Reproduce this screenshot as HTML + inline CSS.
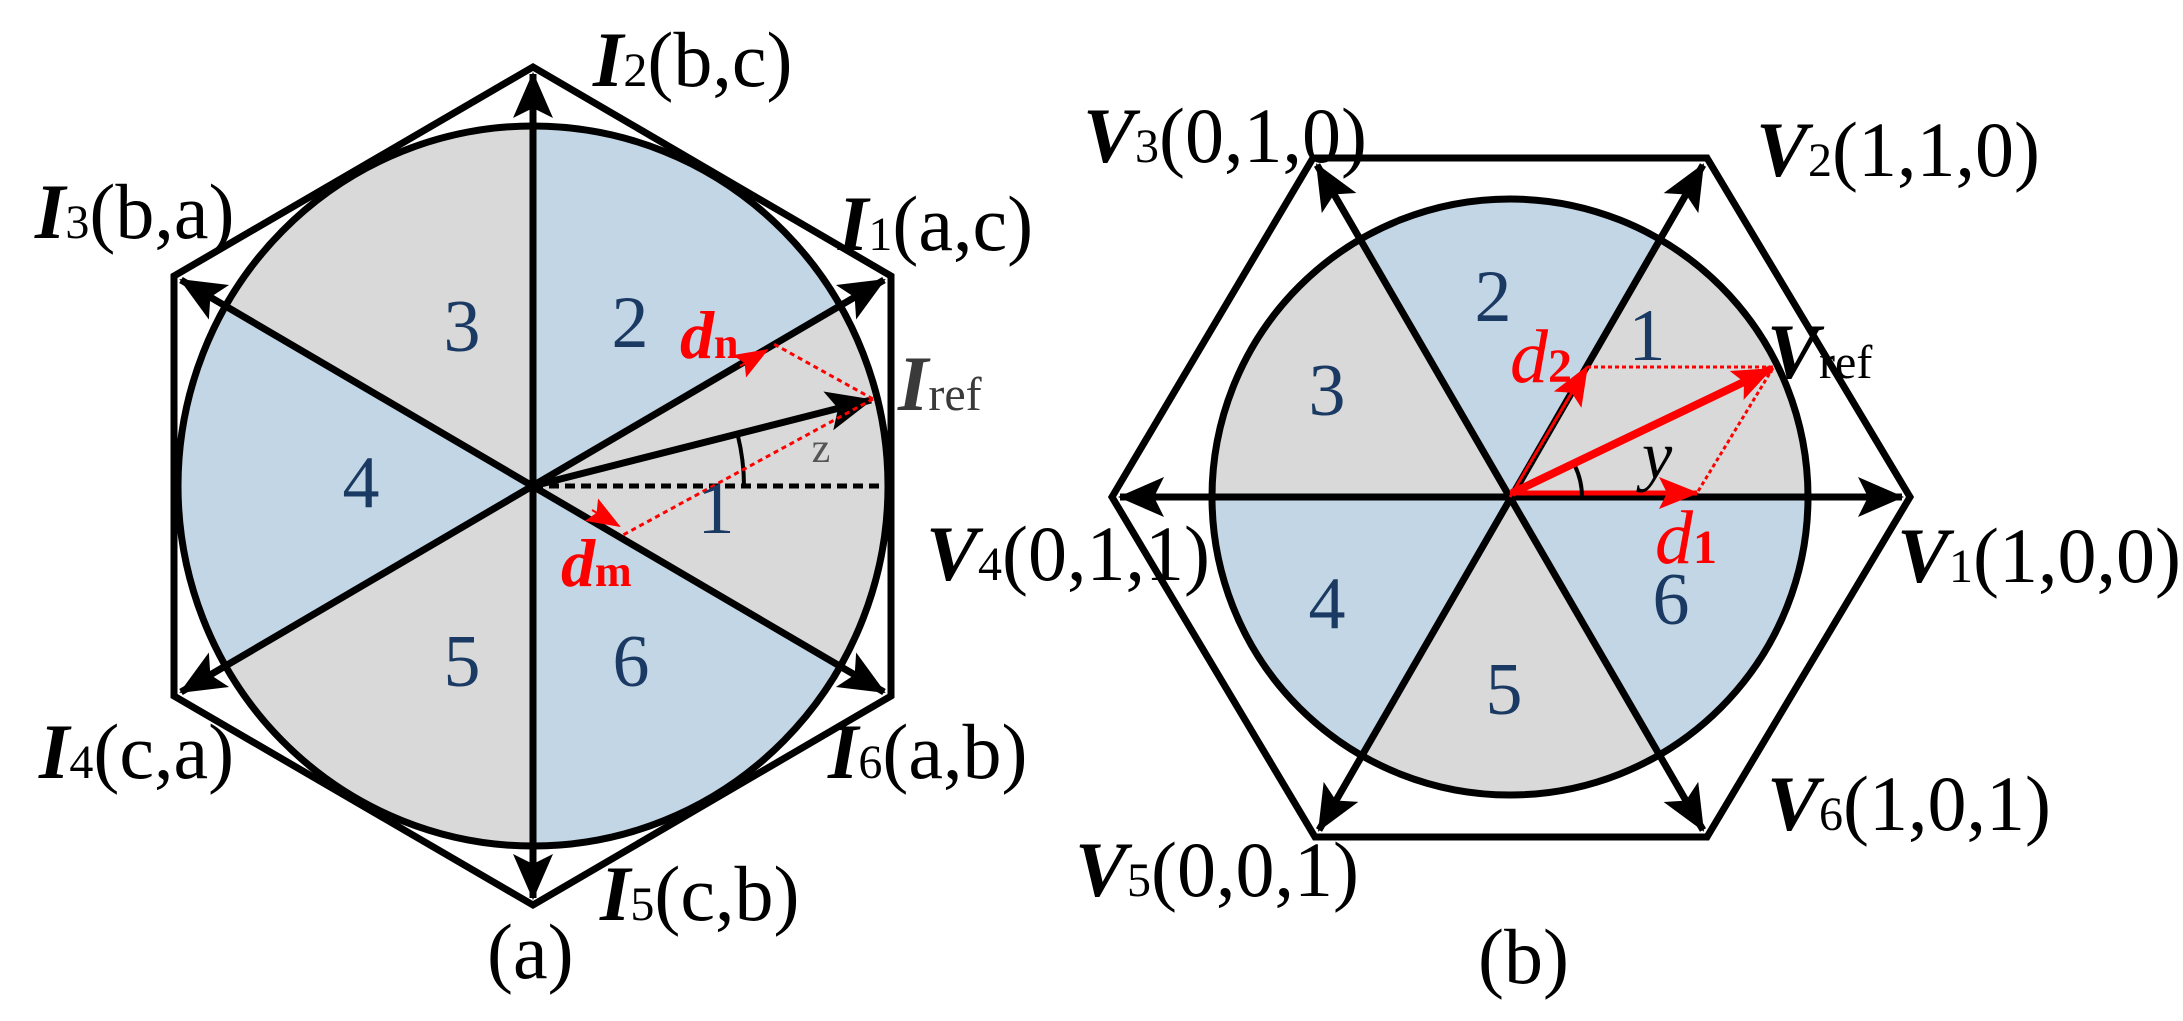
<!DOCTYPE html>
<html><head><meta charset="utf-8"><style>
html,body{margin:0;padding:0;background:#fff;}
svg{display:block;}
text{font-family:"Liberation Serif",serif;}
</style></head><body>
<svg width="2183" height="1021" viewBox="0 0 2183 1021" xmlns="http://www.w3.org/2000/svg">
<defs>
<marker id="ab" markerUnits="userSpaceOnUse" markerWidth="10" markerHeight="10" refX="0" refY="0" orient="auto-start-reverse" overflow="visible">
<path d="M2,0 L-44,-20 L-34,0 L-44,20 Z" fill="#000"/>
</marker>
<marker id="ar" markerUnits="userSpaceOnUse" markerWidth="10" markerHeight="10" refX="0" refY="0" orient="auto" overflow="visible">
<path d="M2,0 L-38,-16 L-30,0 L-38,16 Z" fill="#f00"/>
</marker>
<marker id="ars" markerUnits="userSpaceOnUse" markerWidth="10" markerHeight="10" refX="0" refY="0" orient="auto" overflow="visible">
<path d="M2,0 L-32,-13 L-26,0 L-32,13 Z" fill="#f00"/>
</marker>
</defs>

<!-- ===== (a) ===== -->
<g>
<path d="M533,486 L533,126 A355,360 0 0 1 840.4,306 Z" fill="#c3d6e5"/>
<path d="M533,486 L840.4,306 A355,360 0 0 1 840.4,666 Z" fill="#d9d9d9"/>
<path d="M533,486 L840.4,666 A355,360 0 0 1 533,846 Z" fill="#c3d6e5"/>
<path d="M533,486 L533,846 A355,360 0 0 1 225.6,666 Z" fill="#d9d9d9"/>
<path d="M533,486 L225.6,666 A355,360 0 0 1 225.6,306 Z" fill="#c3d6e5"/>
<path d="M533,486 L225.6,306 A355,360 0 0 1 533,126 Z" fill="#d9d9d9"/>
<ellipse cx="533" cy="486" rx="355" ry="360" fill="none" stroke="#000" stroke-width="7"/>
<polygon points="533,67 891,276 891,696 533,905 174,696 174,276" fill="none" stroke="#000" stroke-width="7" stroke-linejoin="miter"/>
<line x1="533" y1="74" x2="533" y2="898" stroke="#000" stroke-width="7" marker-start="url(#ab)" marker-end="url(#ab)"/>
<line x1="181" y1="280" x2="884" y2="692" stroke="#000" stroke-width="7" marker-start="url(#ab)" marker-end="url(#ab)"/>
<line x1="181" y1="692" x2="884" y2="280" stroke="#000" stroke-width="7" marker-start="url(#ab)" marker-end="url(#ab)"/>
<line x1="533" y1="486" x2="887" y2="486" stroke="#000" stroke-width="5" stroke-dasharray="10,6"/>
<line x1="533" y1="486" x2="871" y2="400" stroke="#000" stroke-width="7" marker-end="url(#ab)"/>
<path d="M744,486 A211,211 0 0 0 737.7,435" fill="none" stroke="#000" stroke-width="4"/>
<line x1="873" y1="399" x2="772" y2="343" stroke="#f00" stroke-width="3" stroke-dasharray="5,4"/>
<line x1="873" y1="399" x2="623" y2="535" stroke="#f00" stroke-width="3" stroke-dasharray="5,4"/>
<line x1="740" y1="366" x2="767" y2="350" stroke="#f00" stroke-width="2" marker-end="url(#ars)"/>
<line x1="592" y1="510" x2="619" y2="526" stroke="#f00" stroke-width="2" marker-end="url(#ars)"/>
<g font-size="74" fill="#1b3a63" text-anchor="middle">
<text x="462" y="351">3</text><text x="630" y="347">2</text>
<text x="361" y="507">4</text><text x="716" y="533">1</text>
<text x="462" y="686">5</text><text x="631" y="686">6</text>
</g>
<text x="821" y="462" font-size="42" fill="#555" text-anchor="middle">z</text>
<text x="680" y="358" font-size="68" fill="#f00" font-weight="bold" font-style="italic">d<tspan font-size="44" font-style="normal">n</tspan></text>
<text x="561" y="586" font-size="68" fill="#f00" font-weight="bold" font-style="italic">d<tspan font-size="44" font-style="normal">m</tspan></text>
<text x="898" y="410" font-size="78" fill="#3a3a3a"><tspan font-weight="bold" font-style="italic">I</tspan><tspan font-size="48">ref</tspan></text>
<g font-size="78" fill="#000">
<text x="593" y="86"><tspan font-weight="bold" font-style="italic">I</tspan><tspan font-size="48">2</tspan>(b,c)</text>
<text x="35" y="238"><tspan font-weight="bold" font-style="italic">I</tspan><tspan font-size="48">3</tspan>(b,a)</text>
<text x="838" y="250"><tspan font-weight="bold" font-style="italic">I</tspan><tspan font-size="48">1</tspan>(a,c)</text>
<text x="39" y="778"><tspan font-weight="bold" font-style="italic">I</tspan><tspan font-size="48">4</tspan>(c,a)</text>
<text x="828" y="778"><tspan font-weight="bold" font-style="italic">I</tspan><tspan font-size="48">6</tspan>(a,b)</text>
<text x="600" y="920"><tspan font-weight="bold" font-style="italic">I</tspan><tspan font-size="48">5</tspan>(c,b)</text>
<text x="487" y="978">(a)</text>
<text x="926" y="580"><tspan font-weight="bold" font-style="italic">V</tspan><tspan font-size="48">4</tspan>(0,1,1)</text>
</g>
</g>

<!-- ===== (b) ===== -->
<g>
<path d="M1510,497 L1808,497 A298,298 0 0 0 1659,239 Z" fill="#d9d9d9"/>
<path d="M1510,497 L1659,239 A298,298 0 0 0 1361,239 Z" fill="#c3d6e5"/>
<path d="M1510,497 L1361,239 A298,298 0 0 0 1212,497 Z" fill="#d9d9d9"/>
<path d="M1510,497 L1212,497 A298,298 0 0 0 1361,755 Z" fill="#c3d6e5"/>
<path d="M1510,497 L1361,755 A298,298 0 0 0 1659,755 Z" fill="#d9d9d9"/>
<path d="M1510,497 L1659,755 A298,298 0 0 0 1808,497 Z" fill="#c3d6e5"/>
<circle cx="1510" cy="497" r="298" fill="none" stroke="#000" stroke-width="7"/>
<polygon points="1112,497 1313,158 1707,158 1910,497 1707,837 1315,837" fill="none" stroke="#000" stroke-width="7"/>
<line x1="1120" y1="497" x2="1902" y2="497" stroke="#000" stroke-width="7" marker-start="url(#ab)" marker-end="url(#ab)"/>
<line x1="1317" y1="165" x2="1703" y2="830" stroke="#000" stroke-width="7" marker-start="url(#ab)" marker-end="url(#ab)"/>
<line x1="1319" y1="830" x2="1703" y2="165" stroke="#000" stroke-width="7" marker-start="url(#ab)" marker-end="url(#ab)"/>
<line x1="1510" y1="493" x2="1697" y2="493" stroke="#f00" stroke-width="5" marker-end="url(#ar)"/>
<line x1="1510" y1="497" x2="1587" y2="367" stroke="#f00" stroke-width="3" marker-end="url(#ar)"/>
<line x1="1587" y1="367" x2="1773" y2="367" stroke="#f00" stroke-width="3" stroke-dasharray="4,3"/>
<line x1="1773" y1="368" x2="1697" y2="493" stroke="#f00" stroke-width="3" stroke-dasharray="4,3"/>
<path d="M1582,497 A72,72 0 0 0 1575,466" fill="none" stroke="#000" stroke-width="4"/>
<line x1="1512" y1="493" x2="1771" y2="369" stroke="#f00" stroke-width="8" marker-end="url(#ar)"/>
<g font-size="74" fill="#1b3a63" text-anchor="middle">
<text x="1493" y="321">2</text><text x="1647" y="360">1</text>
<text x="1327" y="415">3</text><text x="1327" y="628">4</text>
<text x="1671" y="624">6</text><text x="1504" y="714">5</text>
</g>
<text x="1642" y="478" font-size="68" font-style="italic" fill="#000">y</text>
<text x="1510" y="382" font-size="76" fill="#f00" font-style="italic">d<tspan font-size="48" font-weight="bold" font-style="normal">2</tspan></text>
<text x="1655" y="563" font-size="76" fill="#f00" font-style="italic">d<tspan font-size="48" font-weight="bold" font-style="normal">1</tspan></text>
<g font-size="78" fill="#000">
<text x="1767" y="378"><tspan font-weight="bold" font-style="italic">V</tspan><tspan font-size="48">ref</tspan></text>
<text x="1083" y="162"><tspan font-weight="bold" font-style="italic">V</tspan><tspan font-size="48">3</tspan>(0,1,0)</text>
<text x="1756" y="176"><tspan font-weight="bold" font-style="italic">V</tspan><tspan font-size="48">2</tspan>(1,1,0)</text>
<text x="1897" y="582"><tspan font-weight="bold" font-style="italic">V</tspan><tspan font-size="48">1</tspan>(1,0,0)</text>
<text x="1767" y="830"><tspan font-weight="bold" font-style="italic">V</tspan><tspan font-size="48">6</tspan>(1,0,1)</text>
<text x="1075" y="896"><tspan font-weight="bold" font-style="italic">V</tspan><tspan font-size="48">5</tspan>(0,0,1)</text>
<text x="1478" y="983">(b)</text>
</g>
</g>
</svg>
</body></html>
